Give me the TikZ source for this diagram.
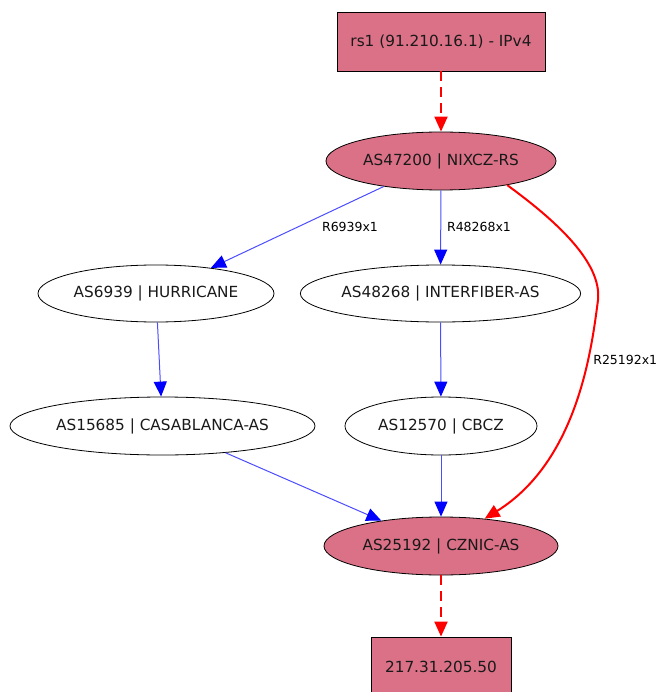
\documentclass[tikz,border=0pt]{standalone}
\usepackage{fontspec}
\setmainfont{DejaVu Sans}
\usetikzlibrary{arrows.meta, shapes.geometric}
\definecolor{asfill}{HTML}{DB7187}

\begin{document}
\begin{tikzpicture}[x=1pt,y=-1pt,>={Triangle[length=15pt,width=13pt]},
        every node/.style={font=\fontsize{15.3}{18}\selectfont,text=black!90},
        asnode/.style={draw,ellipse,inner sep=0pt,thick},
        peer/.style={asnode,fill=asfill},
        endpoint/.style={draw,rectangle,fill=asfill,thick,inner sep=0pt},
        bedge/.style={-{Triangle[length=15pt,width=13pt,color=blue]},blue!70,line width=1pt},
        redge/.style={->,red,line width=2pt},
        rdash/.style={redge,dash pattern=on 10pt off 6pt},
        elabel/.style={font=\fontsize{12.5}{15}\selectfont,text=black}]

      \useasboundingbox (0,0) rectangle (662,692);

      \node[endpoint,minimum width=208pt,minimum height=59pt] (rs) at (441,41.5) {rs1 (91.210.16.1) - IPv4};
      \node[peer,minimum width=230pt,minimum height=58pt] (as47200) at (441,161) {AS47200 | NIXCZ-RS};
      \node[asnode,minimum width=236pt,minimum height=57pt] (as6939) at (156,293.5) {AS6939 | HURRICANE};
      \node[asnode,minimum width=277pt,minimum height=57pt] (as48268) at (440.5,293.5) {AS48268 | INTERFIBER-AS};
      \node[asnode,minimum width=305pt,minimum height=58pt] (as15685) at (162.5,426) {AS15685 | CASABLANCA-AS};
      \node[asnode,minimum width=192pt,minimum height=58pt] (as12570) at (441,426) {AS12570 | CBCZ};
      \node[peer,minimum width=234pt,minimum height=58pt] (as25192) at (441,546) {AS25192 | CZNIC-AS};
      \node[endpoint,minimum width=140pt,minimum height=59pt] (dst) at (441,666.5) {217.31.205.50};

      \path[rdash] (rs) edge (as47200);
      \path[bedge] (as47200.204) edge (as6939.25)
          node[elabel] at (350,227) {R6939x1};
      \path[bedge] (as47200) edge (as48268)
          node[elabel] at (479,227) {R48268x1};
      \draw[redge] (as47200.-20) .. controls (555,220) and (602,262) .. (598,300)
          node[elabel,right=-2pt] at (591,360) {R25192x1}
          .. controls (592,345) and (579,460) .. (as25192.32);
      \path[bedge] (as6939) edge (as15685);
      \path[bedge] (as48268) edge (as12570);
      \path[bedge] (as15685.-23) edge (as25192.157);
      \path[bedge] (as12570) edge (as25192);
      \path[rdash] (as25192) edge (dst);
    \end{tikzpicture}
\end{document}
